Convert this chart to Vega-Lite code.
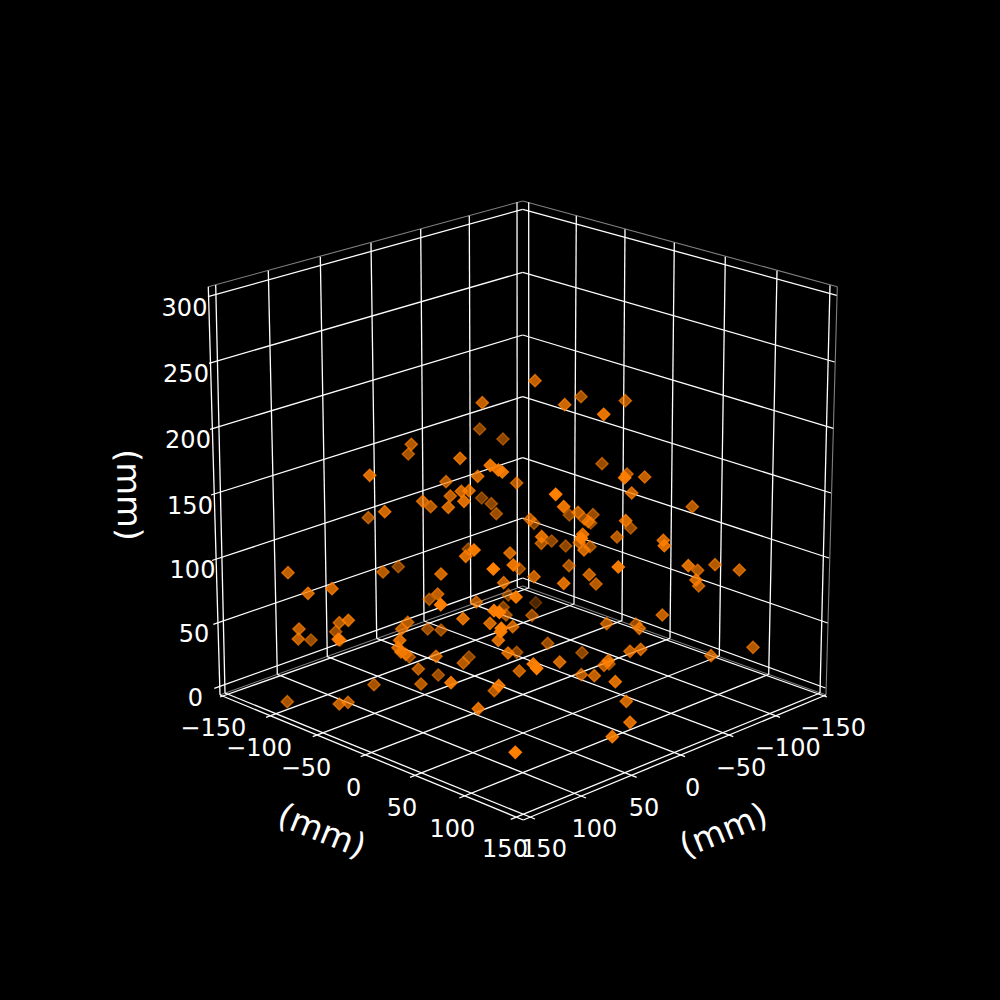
{
  "$schema": "https://vega.github.io/schema/vega-lite/v6.json",
  "width": 1000,
  "height": 1000,
  "autosize": {"type": "fit", "contains": "padding"},
  "padding": 0,
  "background": "#000000",
  "config": {"view": {"stroke": null}, "text": {"font": "DejaVu Sans"}},
  "datasets": {
    "panes": [
      {"sx": 208.3, "sy": 286.7, "sx2": 522.7, "sy2": 201},
      {"sx": 522.7, "sy": 201, "sx2": 837.3, "sy2": 286.7},
      {"sx": 837.3, "sy": 286.7, "sx2": 826, "sy2": 695},
      {"sx": 220, "sy": 695, "sx2": 522.7, "sy2": 586},
      {"sx": 522.7, "sy": 586, "sx2": 826, "sy2": 695}
    ],
    "edges": [
      {"sx": 208.3, "sy": 286.7, "sx2": 220, "sy2": 695},
      {"sx": 220, "sy": 695, "sx2": 523.3, "sy2": 820},
      {"sx": 826, "sy": 695, "sx2": 523.3, "sy2": 820}
    ],
    "grid": [
      {"sx": 208, "sy": 296.7, "sx2": 522.7, "sy2": 209.3},
      {"sx": 522.7, "sy": 209.3, "sx2": 836.7, "sy2": 295.3},
      {"sx": 209, "sy": 363.3, "sx2": 522.7, "sy2": 272.3},
      {"sx": 522.7, "sy": 272.3, "sx2": 834.7, "sy2": 362},
      {"sx": 210, "sy": 429.3, "sx2": 522.7, "sy2": 335},
      {"sx": 522.7, "sy": 335, "sx2": 833.3, "sy2": 428.3},
      {"sx": 211, "sy": 495, "sx2": 522.7, "sy2": 396.7},
      {"sx": 522.7, "sy": 396.7, "sx2": 831, "sy2": 493},
      {"sx": 212, "sy": 560.5, "sx2": 522.7, "sy2": 457.7},
      {"sx": 522.7, "sy": 457.7, "sx2": 829, "sy2": 558},
      {"sx": 213.3, "sy": 624.3, "sx2": 522.7, "sy2": 518},
      {"sx": 522.7, "sy": 518, "sx2": 827.7, "sy2": 623},
      {"sx": 214.3, "sy": 688.3, "sx2": 522.7, "sy2": 578},
      {"sx": 522.7, "sy": 578, "sx2": 825.5, "sy2": 688},
      {"sx": 215.7, "sy": 285, "sx2": 225, "sy2": 693},
      {"sx": 268.3, "sy": 270.7, "sx2": 277.3, "sy2": 674.3},
      {"sx": 320.3, "sy": 256.7, "sx2": 327.3, "sy2": 656.7},
      {"sx": 371, "sy": 242.7, "sx2": 376.7, "sy2": 638.3},
      {"sx": 420.7, "sy": 229, "sx2": 424, "sy2": 621},
      {"sx": 469.3, "sy": 215.7, "sx2": 470.7, "sy2": 603.3},
      {"sx": 517, "sy": 202.3, "sx2": 517.3, "sy2": 587},
      {"sx": 528.7, "sy": 202.3, "sx2": 528.7, "sy2": 588},
      {"sx": 576.3, "sy": 215.7, "sx2": 574, "sy2": 604},
      {"sx": 625, "sy": 229.3, "sx2": 622, "sy2": 620.7},
      {"sx": 674.3, "sy": 242.7, "sx2": 670, "sy2": 638.3},
      {"sx": 725.3, "sy": 256.7, "sx2": 719.3, "sy2": 656},
      {"sx": 777, "sy": 270.7, "sx2": 768.7, "sy2": 674.3},
      {"sx": 830, "sy": 285.3, "sx2": 820, "sy2": 693},
      {"sx": 225, "sy": 693, "sx2": 535, "sy2": 819},
      {"sx": 277.3, "sy": 674.3, "sx2": 586, "sy2": 798},
      {"sx": 327.3, "sy": 656.7, "sx2": 636.7, "sy2": 777.3},
      {"sx": 376.7, "sy": 638.3, "sx2": 685, "sy2": 756.7},
      {"sx": 424, "sy": 621, "sx2": 733.3, "sy2": 736.7},
      {"sx": 470.7, "sy": 603.3, "sx2": 780, "sy2": 717.3},
      {"sx": 517.3, "sy": 587, "sx2": 827, "sy2": 697},
      {"sx": 820, "sy": 693, "sx2": 510.7, "sy2": 819.3},
      {"sx": 768.7, "sy": 674.3, "sx2": 459.3, "sy2": 798},
      {"sx": 719.3, "sy": 656, "sx2": 410, "sy2": 777.3},
      {"sx": 670, "sy": 638.3, "sx2": 360.7, "sy2": 756.7},
      {"sx": 622, "sy": 620.7, "sx2": 312.7, "sy2": 736.7},
      {"sx": 574, "sy": 604, "sx2": 266, "sy2": 717.3},
      {"sx": 528.7, "sy": 588, "sx2": 220, "sy2": 697}
    ],
    "ticks": [
      {"sx": 184.5, "sy": 306.7, "label": "300"},
      {"sx": 186, "sy": 373, "label": "250"},
      {"sx": 188, "sy": 439, "label": "200"},
      {"sx": 190, "sy": 505, "label": "150"},
      {"sx": 192.5, "sy": 569, "label": "100"},
      {"sx": 194, "sy": 632.7, "label": "50"},
      {"sx": 195.5, "sy": 696.7, "label": "0"},
      {"sx": 213.3, "sy": 726.7, "label": "−150"},
      {"sx": 259, "sy": 747.3, "label": "−100"},
      {"sx": 306, "sy": 766.7, "label": "−50"},
      {"sx": 353.7, "sy": 786.7, "label": "0"},
      {"sx": 402, "sy": 807, "label": "50"},
      {"sx": 452.3, "sy": 828.3, "label": "100"},
      {"sx": 505, "sy": 848.3, "label": "150"},
      {"sx": 833, "sy": 726.7, "label": "−150"},
      {"sx": 787.7, "sy": 747.3, "label": "−100"},
      {"sx": 741, "sy": 766.7, "label": "−50"},
      {"sx": 692.7, "sy": 786.7, "label": "0"},
      {"sx": 644, "sy": 807, "label": "50"},
      {"sx": 594.3, "sy": 828.3, "label": "100"},
      {"sx": 544, "sy": 848.3, "label": "150"}
    ],
    "points": [
      {"sx": 535, "sy": 380.7, "depth": 0.75},
      {"sx": 482.3, "sy": 402.7, "depth": 0.75},
      {"sx": 479.7, "sy": 429, "depth": 0.55},
      {"sx": 503, "sy": 439, "depth": 0.55},
      {"sx": 411.3, "sy": 444.3, "depth": 0.7},
      {"sx": 408.3, "sy": 454, "depth": 0.65},
      {"sx": 460, "sy": 458.3, "depth": 0.8},
      {"sx": 369.7, "sy": 475.3, "depth": 0.85},
      {"sx": 490.3, "sy": 465.3, "depth": 0.9},
      {"sx": 498.3, "sy": 470, "depth": 0.9},
      {"sx": 502.3, "sy": 472, "depth": 0.9},
      {"sx": 477.7, "sy": 476.3, "depth": 0.8},
      {"sx": 446, "sy": 481.7, "depth": 0.7},
      {"sx": 516.7, "sy": 483, "depth": 0.7},
      {"sx": 469, "sy": 490.7, "depth": 0.8},
      {"sx": 461.3, "sy": 491.3, "depth": 0.8},
      {"sx": 450.3, "sy": 496, "depth": 0.75},
      {"sx": 481.7, "sy": 498, "depth": 0.5},
      {"sx": 464, "sy": 501.3, "depth": 0.85},
      {"sx": 491.3, "sy": 503.7, "depth": 0.55},
      {"sx": 422.7, "sy": 501.3, "depth": 0.75},
      {"sx": 430.7, "sy": 506.7, "depth": 0.7},
      {"sx": 448.3, "sy": 507.3, "depth": 0.8},
      {"sx": 496.3, "sy": 513.7, "depth": 0.6},
      {"sx": 384.7, "sy": 511.7, "depth": 0.8},
      {"sx": 368.3, "sy": 517.7, "depth": 0.65},
      {"sx": 530, "sy": 519.3, "depth": 0.7},
      {"sx": 534, "sy": 523.3, "depth": 0.5},
      {"sx": 564.7, "sy": 404.7, "depth": 0.8},
      {"sx": 581, "sy": 396.7, "depth": 0.65},
      {"sx": 625.3, "sy": 400.7, "depth": 0.7},
      {"sx": 603.7, "sy": 414.3, "depth": 0.9},
      {"sx": 602, "sy": 463.7, "depth": 0.6},
      {"sx": 627, "sy": 474, "depth": 0.7},
      {"sx": 624.7, "sy": 477.7, "depth": 0.95},
      {"sx": 644.7, "sy": 477, "depth": 0.75},
      {"sx": 555.7, "sy": 494.3, "depth": 1},
      {"sx": 631.7, "sy": 493, "depth": 0.8},
      {"sx": 692.3, "sy": 506.7, "depth": 0.7},
      {"sx": 563.7, "sy": 506.7, "depth": 0.9},
      {"sx": 578, "sy": 512.3, "depth": 0.75},
      {"sx": 569.3, "sy": 515, "depth": 0.55},
      {"sx": 593, "sy": 514.7, "depth": 0.6},
      {"sx": 584.3, "sy": 519, "depth": 0.6},
      {"sx": 588.3, "sy": 521.7, "depth": 0.7},
      {"sx": 590.7, "sy": 523, "depth": 0.55},
      {"sx": 625.7, "sy": 520.7, "depth": 0.85},
      {"sx": 630.7, "sy": 528, "depth": 0.6},
      {"sx": 541.7, "sy": 536.7, "depth": 0.85},
      {"sx": 541.3, "sy": 543.3, "depth": 0.65},
      {"sx": 551.7, "sy": 541, "depth": 0.55},
      {"sx": 565.7, "sy": 546, "depth": 0.55},
      {"sx": 617, "sy": 537, "depth": 0.7},
      {"sx": 582.7, "sy": 534.3, "depth": 0.85},
      {"sx": 581.3, "sy": 538.3, "depth": 1},
      {"sx": 579.3, "sy": 542.7, "depth": 0.7},
      {"sx": 590, "sy": 546.7, "depth": 0.6},
      {"sx": 584, "sy": 550, "depth": 0.8},
      {"sx": 663.3, "sy": 540.3, "depth": 0.8},
      {"sx": 664.3, "sy": 545.7, "depth": 0.85},
      {"sx": 510, "sy": 553, "depth": 0.8},
      {"sx": 513.3, "sy": 565, "depth": 0.9},
      {"sx": 519.3, "sy": 568.7, "depth": 0.6},
      {"sx": 569, "sy": 565.7, "depth": 0.65},
      {"sx": 618.3, "sy": 567, "depth": 0.95},
      {"sx": 688.3, "sy": 565.7, "depth": 0.85},
      {"sx": 697.7, "sy": 570.3, "depth": 0.7},
      {"sx": 715, "sy": 564.7, "depth": 0.7},
      {"sx": 739.3, "sy": 570, "depth": 0.75},
      {"sx": 589.3, "sy": 574.7, "depth": 0.75},
      {"sx": 534, "sy": 576.7, "depth": 0.75},
      {"sx": 563.7, "sy": 583.3, "depth": 0.85},
      {"sx": 596, "sy": 584, "depth": 0.7},
      {"sx": 696, "sy": 580, "depth": 0.8},
      {"sx": 698.7, "sy": 586, "depth": 0.7},
      {"sx": 468.3, "sy": 549, "depth": 0.5},
      {"sx": 474, "sy": 550, "depth": 0.95},
      {"sx": 465.7, "sy": 556.3, "depth": 0.85},
      {"sx": 493.3, "sy": 569, "depth": 1},
      {"sx": 441, "sy": 574, "depth": 0.8},
      {"sx": 398.3, "sy": 566.7, "depth": 0.55},
      {"sx": 383, "sy": 572, "depth": 0.7},
      {"sx": 288, "sy": 572.7, "depth": 0.75},
      {"sx": 308, "sy": 593.3, "depth": 0.8},
      {"sx": 332, "sy": 588.7, "depth": 0.8},
      {"sx": 503.7, "sy": 582.7, "depth": 0.75},
      {"sx": 437.7, "sy": 594, "depth": 0.75},
      {"sx": 429.3, "sy": 599.3, "depth": 0.6},
      {"sx": 440.7, "sy": 604.7, "depth": 1},
      {"sx": 476.3, "sy": 602, "depth": 0.7},
      {"sx": 508.3, "sy": 595, "depth": 0.5},
      {"sx": 516, "sy": 597, "depth": 0.95},
      {"sx": 535.7, "sy": 602.7, "depth": 0.3},
      {"sx": 532, "sy": 615.3, "depth": 0.6},
      {"sx": 494, "sy": 610.7, "depth": 0.95},
      {"sx": 499.3, "sy": 612.3, "depth": 1},
      {"sx": 503.3, "sy": 607.3, "depth": 0.5},
      {"sx": 506, "sy": 615, "depth": 0.6},
      {"sx": 490, "sy": 623.3, "depth": 0.8},
      {"sx": 512.7, "sy": 626.7, "depth": 0.75},
      {"sx": 501.3, "sy": 628.3, "depth": 1},
      {"sx": 500.7, "sy": 631.7, "depth": 0.95},
      {"sx": 498.3, "sy": 640.3, "depth": 0.85},
      {"sx": 463, "sy": 618.7, "depth": 0.85},
      {"sx": 348.3, "sy": 620.3, "depth": 0.8},
      {"sx": 339.3, "sy": 622.7, "depth": 0.7},
      {"sx": 335.7, "sy": 631.7, "depth": 0.6},
      {"sx": 299, "sy": 629, "depth": 0.75},
      {"sx": 298.3, "sy": 639, "depth": 0.75},
      {"sx": 311, "sy": 640, "depth": 0.6},
      {"sx": 338.3, "sy": 639.3, "depth": 0.9},
      {"sx": 340, "sy": 640, "depth": 0.7},
      {"sx": 407.7, "sy": 622.3, "depth": 0.7},
      {"sx": 401.7, "sy": 629, "depth": 0.75},
      {"sx": 427.7, "sy": 629, "depth": 0.6},
      {"sx": 441, "sy": 630, "depth": 0.6},
      {"sx": 399.7, "sy": 640.3, "depth": 0.85},
      {"sx": 398, "sy": 647.7, "depth": 0.8},
      {"sx": 401, "sy": 652, "depth": 0.8},
      {"sx": 405.7, "sy": 654.3, "depth": 0.7},
      {"sx": 409.3, "sy": 657, "depth": 0.6},
      {"sx": 436, "sy": 656.3, "depth": 0.75},
      {"sx": 469, "sy": 657, "depth": 0.55},
      {"sx": 463.3, "sy": 663, "depth": 0.7},
      {"sx": 508, "sy": 653, "depth": 0.8},
      {"sx": 516.7, "sy": 652.3, "depth": 0.55},
      {"sx": 519.3, "sy": 671, "depth": 0.75},
      {"sx": 533.3, "sy": 664, "depth": 0.95},
      {"sx": 536.7, "sy": 668.3, "depth": 1},
      {"sx": 418.3, "sy": 669, "depth": 0.7},
      {"sx": 438.3, "sy": 675, "depth": 0.6},
      {"sx": 421, "sy": 684, "depth": 0.7},
      {"sx": 451, "sy": 682.7, "depth": 0.9},
      {"sx": 374, "sy": 684.7, "depth": 0.65},
      {"sx": 498.7, "sy": 685.7, "depth": 0.9},
      {"sx": 494.3, "sy": 690.7, "depth": 0.7},
      {"sx": 287.3, "sy": 701.7, "depth": 0.65},
      {"sx": 339.3, "sy": 704, "depth": 0.75},
      {"sx": 348, "sy": 702.3, "depth": 0.7},
      {"sx": 478.3, "sy": 708.7, "depth": 0.85},
      {"sx": 515.3, "sy": 752.3, "depth": 1},
      {"sx": 547.7, "sy": 643.3, "depth": 0.6},
      {"sx": 662.3, "sy": 615, "depth": 0.75},
      {"sx": 606.7, "sy": 623.7, "depth": 0.7},
      {"sx": 636, "sy": 624, "depth": 0.6},
      {"sx": 639.3, "sy": 628.3, "depth": 0.75},
      {"sx": 582, "sy": 652.7, "depth": 0.55},
      {"sx": 630, "sy": 651.3, "depth": 0.75},
      {"sx": 640.7, "sy": 649.3, "depth": 0.75},
      {"sx": 753, "sy": 647.3, "depth": 0.7},
      {"sx": 711, "sy": 655.7, "depth": 0.7},
      {"sx": 559.7, "sy": 662, "depth": 0.8},
      {"sx": 608.3, "sy": 660.7, "depth": 0.8},
      {"sx": 609, "sy": 664, "depth": 0.6},
      {"sx": 604, "sy": 665.3, "depth": 0.7},
      {"sx": 581.3, "sy": 674.7, "depth": 0.7},
      {"sx": 594.3, "sy": 675.7, "depth": 0.75},
      {"sx": 615.3, "sy": 681.7, "depth": 0.85},
      {"sx": 626.3, "sy": 701.3, "depth": 0.8},
      {"sx": 630, "sy": 722.3, "depth": 0.85},
      {"sx": 612.3, "sy": 736.7, "depth": 0.9}
    ]
  },
  "encoding": {
    "x": {"field": "sx", "type": "quantitative", "scale": {"domain": [0, 1000], "nice": false, "zero": false}, "axis": null},
    "y": {"field": "sy", "type": "quantitative", "scale": {"domain": [1000, 0], "nice": false, "zero": false}, "axis": null}
  },
  "layer": [
    {
      "data": {"name": "panes"},
      "mark": {"type": "rule", "color": "#808080", "strokeWidth": 1.1},
      "encoding": {"x2": {"field": "sx2"}, "y2": {"field": "sy2"}}
    },
    {
      "data": {"name": "grid"},
      "mark": {"type": "rule", "color": "#ffffff", "strokeWidth": 1.3},
      "encoding": {"x2": {"field": "sx2"}, "y2": {"field": "sy2"}}
    },
    {
      "data": {"name": "edges"},
      "mark": {"type": "rule", "color": "#ffffff", "strokeWidth": 1.3},
      "encoding": {"x2": {"field": "sx2"}, "y2": {"field": "sy2"}}
    },
    {
      "data": {"name": "points"},
      "mark": {"type": "point", "shape": "diamond", "filled": true, "size": 150, "color": "#ff7f00", "stroke": "#ff7f00", "strokeWidth": 1.4},
      "encoding": {
        "fillOpacity": {"field": "depth", "type": "quantitative", "scale": {"domain": [0, 1], "range": [0, 1]}, "legend": null},
        "strokeOpacity": {"field": "depth", "type": "quantitative", "scale": {"domain": [0, 1], "range": [0, 1]}, "legend": null},
        "opacity": {"value": 1}
      }
    },
    {
      "data": {"name": "ticks"},
      "mark": {"type": "text", "fontSize": 24, "color": "#ffffff", "align": "center", "baseline": "middle", "dy": 2},
      "encoding": {"text": {"field": "label"}}
    },
    {
      "data": {"values": [{"sx": 321.5, "sy": 832, "label": "(mm)"}]},
      "mark": {"type": "text", "fontSize": 33.6, "color": "#ffffff", "align": "center", "baseline": "middle", "angle": 22},
      "encoding": {"text": {"field": "label"}}
    },
    {
      "data": {"values": [{"sx": 724, "sy": 831.5, "label": "(mm)"}]},
      "mark": {"type": "text", "fontSize": 33.6, "color": "#ffffff", "align": "center", "baseline": "middle", "angle": -22},
      "encoding": {"text": {"field": "label"}}
    },
    {
      "data": {"values": [{"sx": 127.5, "sy": 495, "label": "(mm)"}]},
      "mark": {"type": "text", "fontSize": 33.6, "color": "#ffffff", "align": "center", "baseline": "middle", "angle": 89},
      "encoding": {"text": {"field": "label"}}
    }
  ]
}
